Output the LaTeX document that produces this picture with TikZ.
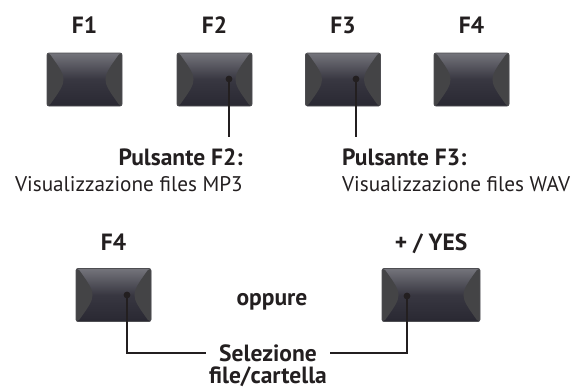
\documentclass[tikz,border=0pt]{standalone}
\usepackage{fontspec}
\setmainfont{PT Sans}
\usepackage{xcolor}
\usetikzlibrary{positioning,calc}
\definecolor{KeyTop}{HTML}{74747B}
\definecolor{KeyMid}{HTML}{383741}
\definecolor{KeyBottom}{HTML}{292832}
\definecolor{KeySide}{HTML}{444446}
\definecolor{KeyEdge}{HTML}{4E4E52}
\definecolor{InkBlack}{HTML}{231F20}
\tikzset{
  keybtn/.style={rectangle, rounded corners=2pt, draw=KeyEdge, line width=0.7pt,
    top color=KeyTop, bottom color=KeyBottom, middle color=KeyMid,
    minimum width=75pt, minimum height=53pt, inner sep=0pt,
    path picture={
      \fill[KeySide] ([xshift=2pt]path picture bounding box.north west)
        .. controls ([xshift=21pt]path picture bounding box.west) ..
        ([xshift=2pt]path picture bounding box.south west)
        -- (path picture bounding box.south west) -- (path picture bounding box.north west) -- cycle;
      \fill[KeySide] ([xshift=-2pt]path picture bounding box.north east)
        .. controls ([xshift=-21pt]path picture bounding box.east) ..
        ([xshift=-2pt]path picture bounding box.south east)
        -- (path picture bounding box.south east) -- (path picture bounding box.north east) -- cycle;
    }},
  keydot/.style={circle, fill=InkBlack, inner sep=0pt, minimum size=6.8pt},
  leader/.style={draw=InkBlack, line width=1.1pt}
}

\begin{document}
\begin{tikzpicture}[
  x=1pt, y=-1pt,
  keylabel/.style={font=\fontsize{23.5}{28}\selectfont\bfseries, text=InkBlack, inner sep=0pt, anchor=base},
  headtext/.style={font=\fontsize{23.5}{28}\selectfont\bfseries, text=InkBlack, inner sep=0pt},
  bodytext/.style={font=\fontsize{21.2}{25}\selectfont, text=InkBlack, inner sep=0pt}
]
\useasboundingbox (0,0) rectangle (573,389);

% Top row: function keys
\node[keybtn] at (84.5,79.5) (f1key) {};
\node[keybtn] at (214.5,79.5) (f2key) {};
\node[keybtn] at (343,79.5) (f3key) {};
\node[keybtn] at (471.5,79.5) (f4key) {};
\node[keylabel] at (84.5,33) (f1lbl) {F1};
\node[keylabel] at (214.5,33) (f2lbl) {F2};
\node[keylabel] at (343,33) (f3lbl) {F3};
\node[keylabel] at (471.5,33) (f4lbl) {F4};

\node[keydot] at (229,79) (f2dot) {};
\node[keydot] at (356,79) (f3dot) {};

% Callouts for F2 and F3
\node[headtext, anchor=base east] at (243,165) (f2head) {Pulsante F2:};
\node[bodytext, anchor=base east] at (243,191) (f2body) {Visualizzazione files MP3};
\node[headtext, anchor=base west] at (342,165) (f3head) {Pulsante F3:};
\node[bodytext, anchor=base west] at (342,191) (f3body) {Visualizzazione files WAV};
\draw[leader] (f2dot.center) -- ++(0,58);
\draw[leader] (f3dot.center) -- ++(0,58);

% Bottom row: F4 or +/YES select
\node[keybtn] at (113.5,295) (selkey) {};
\node[keybtn, minimum width=98pt] at (431,295) (yeskey) {};
\node[keylabel] at (113.5,250) (sellbl) {F4};
\node[keylabel] at (431,250) (yeslbl) {+ / YES};
\node[keydot] at (127,295) (seldot) {};
\node[keydot] at (407,296) (yesdot) {};
\node[headtext, anchor=base] at (272,305) (oppure) {oppure};

\node[headtext, inner xsep=13pt, anchor=base] at (268,361) (selhead) {Selezione};
\node[headtext, anchor=base] at (268,383.5) (selbody) {file/cartella};
\coordinate (selmid) at (268,353);
\draw[leader] (seldot.center) |- (selhead.west |- selmid);
\draw[leader] (yesdot.center) |- (selhead.east |- selmid);
\end{tikzpicture}
\end{document}
